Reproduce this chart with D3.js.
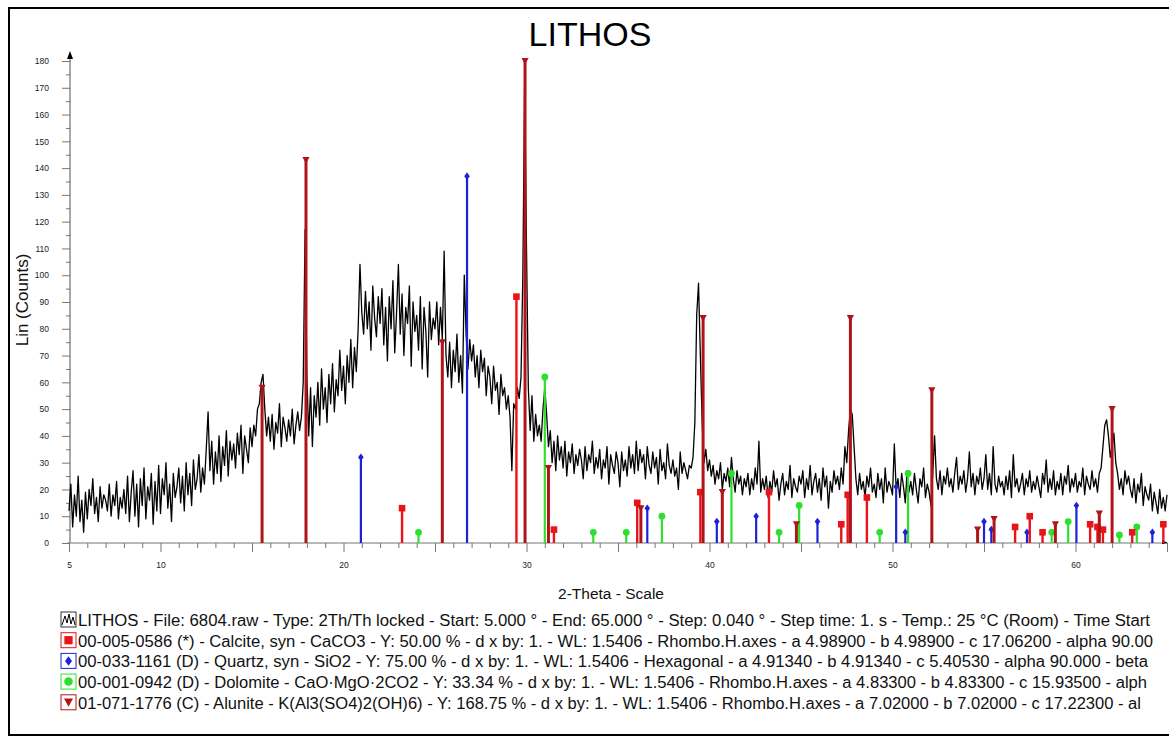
<!DOCTYPE html>
<html><head><meta charset="utf-8">
<script src="https://cdn.jsdelivr.net/npm/d3@7"></script>
<style>
html,body{margin:0;padding:0;background:#fff;}
svg{display:block;}
text{font-family:"Liberation Sans",Arial,sans-serif;}
</style></head>
<body>
<svg id="c" width="1169" height="744"></svg>
<script>
// ---------- DATA ----------
const title = "LITHOS";
const xLabel = "2-Theta - Scale";
const yLabel = "Lin (Counts)";
const scanStart = 5.0;
const scanStep = 0.1;
// measured counts, one row per degree (x.0 ... x.9)
const counts = [
  12,22,6,18,10,25,8,16,4,19,        // 5
  9,20,14,24,11,17,8,21,13,18,       // 6
  16,12,22,10,18,14,23,9,17,13,      // 7
  20,11,25,8,19,27,10,22,6,24,       // 8
  14,28,9,21,16,26,7,23,12,29,       // 9
  11,24,18,30,13,22,8,26,17,21,      // 10
  28,15,25,12,30,18,26,14,31,20,     // 11
  24,33,19,28,22,35,49,27,38,22,     // 12
  34,26,40,23,36,29,42,25,38,31,     // 13
  37,28,41,33,44,26,40,35,30,43,     // 14
  36,44,40,50,52,60,63,50,40,47,     // 15
  38,48,35,45,41,52,36,47,43,38,     // 16
  46,40,50,37,44,49,42,47,60,117,    // 17
  62,40,58,36,55,47,60,44,65,50,     // 18
  58,45,63,52,67,49,61,55,72,57,     // 19
  66,52,70,60,76,58,73,64,80,104,    // 20
  86,78,94,80,90,72,96,84,77,92,     // 21
  82,95,74,88,68,92,80,98,71,86,     // 22
  104,78,93,70,88,82,96,66,90,79,    // 23
  85,72,92,65,88,79,62,90,76,84,     // 24
  80,90,74,88,76,109,70,62,75,58,    // 25
  72,64,78,60,70,56,100,78,65,76,    // 26
  68,74,62,70,58,72,64,69,55,66,     // 27
  62,52,66,57,60,48,63,55,58,50,     // 28
  55,47,27,52,50,58,54,62,100,173,   // 29
  110,58,42,55,38,48,40,44,38,50,    // 30
  58,48,36,42,30,38,27,40,31,36,     // 31
  28,38,25,34,30,37,26,33,29,35,     // 32
  31,24,36,27,33,30,38,26,32,28,     // 33
  35,24,31,28,36,22,33,29,26,34,     // 34
  30,21,34,27,31,25,36,28,33,26,     // 35
  38,27,35,30,33,24,36,29,26,34,     // 36
  28,32,22,35,27,30,24,37,29,26,     // 37
  31,25,28,20,34,26,30,27,24,29,     // 38
  28,32,45,85,97,70,45,30,35,27,     // 39
  31,25,29,22,27,24,30,20,26,23,     // 40
  28,21,32,24,19,27,22,25,18,24,     // 41
  21,26,18,24,20,28,22,38,19,24,     // 42
  20,25,17,23,19,27,21,24,16,22,     // 43
  26,18,23,20,29,17,24,21,19,25,     // 44
  22,27,17,24,20,29,18,23,26,19,     // 45
  24,16,28,21,25,13,23,19,27,22,     // 46
  25,20,28,22,36,30,42,50,48,36,     // 47
  24,18,26,20,23,17,25,21,28,19,     // 48
  22,17,26,20,24,15,28,19,23,21,     // 49
  18,37,20,24,17,26,21,15,27,19,     // 50
  23,18,26,20,15,24,21,28,17,22,     // 51
  19,14,26,40,24,20,27,18,25,22,     // 52
  28,21,24,19,26,32,20,25,22,27,     // 53
  19,24,34,21,26,18,25,22,28,20,     // 54
  24,33,20,26,18,36,22,19,25,21,     // 55
  23,18,25,20,27,17,33,21,24,19,     // 56
  22,26,18,24,21,27,19,23,20,25,     // 57
  21,17,26,22,31,19,24,20,27,18,     // 58
  23,20,26,18,25,22,29,19,24,21,     // 59
  26,19,23,21,28,18,25,22,20,27,     // 60
  21,24,19,26,28,36,44,46,40,32,     // 61
  36,41,30,26,20,24,18,27,22,25,     // 62
  20,17,24,15,22,19,26,14,21,18,     // 63
  16,22,12,19,15,11,20,13,17,12,     // 64
  18                                 // 65
];

// reference patterns: [2-theta, counts]
const calciteSticks = [[23.2,13],[29.45,92],[31.5,5],[36.05,15],[39.5,19],[43.25,19],[47.2,7],[47.55,18],[48.6,17],[56.7,6],[57.5,10],[58.2,4],[60.8,7],[61.2,6],[61.5,5],[63.1,4],[64.8,7]];
const quartzSticks = [[20.95,32],[26.75,137],[36.6,13],[40.4,8],[42.55,10],[45.9,8],[50.2,21],[50.7,4],[55.0,8],[55.4,5],[57.35,4],[60.05,14],[64.2,4]];
const dolomiteSticks = [[24.1,4],[31.0,62],[33.65,4],[35.45,4],[37.4,10],[41.2,26],[43.8,4],[44.9,14],[49.3,4],[50.85,26],[58.7,4],[59.6,8],[62.4,3],[63.35,6]];
const aluniteSticks = [[15.55,58],[17.95,143],[25.4,75],[29.92,180],[31.2,28],[36.25,13],[39.65,84],[40.7,19],[44.75,7],[47.7,84],[52.15,57],[54.65,5],[55.55,9],[58.9,7],[61.3,11],[62.0,50]];

const yTicks = [0,10,20,30,40,50,60,70,80,90,100,110,120,130,140,150,160,170,180];
const xTickLabels = [5,10,20,30,40,50,60];

const legendItems = [
  {name:"scan", text:"LITHOS - File: 6804.raw - Type: 2Th/Th locked - Start: 5.000 ° - End: 65.000 ° - Step: 0.040 ° - Step time: 1. s - Temp.: 25 °C (Room) - Time Start", w:1072},
  {name:"calcite", text:"00-005-0586 (*) - Calcite, syn - CaCO3 - Y: 50.00 % - d x by: 1. - WL: 1.5406 - Rhombo.H.axes - a 4.98900 - b 4.98900 - c 17.06200 - alpha 90.00", w:1075},
  {name:"quartz", text:"00-033-1161 (D) - Quartz, syn - SiO2 - Y: 75.00 % - d x by: 1. - WL: 1.5406 - Hexagonal - a 4.91340 - b 4.91340 - c 5.40530 - alpha 90.000 - beta", w:1070},
  {name:"dolomite", text:"00-001-0942 (D) - Dolomite - CaO·MgO·2CO2 - Y: 33.34 % - d x by: 1. - WL: 1.5406 - Rhombo.H.axes - a 4.83300 - b 4.83300 - c 15.93500 - alph", w:1069},
  {name:"alunite", text:"01-071-1776 (C) - Alunite - K(Al3(SO4)2(OH)6) - Y: 168.75 % - d x by: 1. - WL: 1.5406 - Rhombo.H.axes - a 7.02000 - b 7.02000 - c 17.22300 - al", w:1063}
];

// ---------- STYLE ----------
const colors = {scan:"#000", calcite:"#e8141a", quartz:"#1c22d8", dolomite:"#2ee02e", alunite:"#b0141a"};

const svg = d3.select("#c");
const x = d3.scaleLinear().domain([5,65]).range([69,1167]);
const y = d3.scaleLinear().domain([0,180]).range([543,61]);

// frame
svg.append("rect").attr("x",9).attr("y",8).attr("width",1170).attr("height",727)
  .attr("fill","none").attr("stroke","#000").attr("stroke-width",2);

// title
svg.append("text").attr("x",590).attr("y",46).attr("text-anchor","middle")
  .attr("font-size",34).attr("fill","#000").text(title);

// axes
const yAxis = d3.axisLeft(y).tickValues(d3.range(0,181,5))
  .tickFormat(d => yTicks.includes(d) ? d : "").tickSize(8).tickPadding(12);
const gy = svg.append("g").attr("transform","translate(70,0)").call(yAxis);
gy.select(".domain").remove();
gy.selectAll(".tick line").attr("stroke","#777").attr("x2", d => d%10===0 ? -8 : -4);
gy.selectAll(".tick text").attr("font-size",8.5).attr("fill","#222").attr("x",-21)
  .attr("font-family","Liberation Sans, Arial, sans-serif");
svg.append("line").attr("x1",70).attr("x2",70).attr("y1",y(0)).attr("y2",y(180)-6)
  .attr("stroke","#555").attr("stroke-width",1);
svg.append("path").attr("d",`M67,${y(180)-2} L70,${y(180)-10} L73,${y(180)-2} Z`).attr("fill","#000");

const xAxis = d3.axisBottom(x).tickValues(d3.range(5,66,1))
  .tickFormat(d => xTickLabels.includes(d) ? d : "").tickSize(7).tickPadding(12);
const gx = svg.append("g").attr("transform",`translate(0,${y(0)})`).call(xAxis);
gx.select(".domain").remove();
gx.selectAll(".tick line").attr("stroke","#777").attr("y2", d => d%5===0 ? 9 : 5);
gx.selectAll(".tick text").attr("font-size",8.5).attr("fill","#222")
  .attr("font-family","Liberation Sans, Arial, sans-serif");
svg.append("line").attr("x1",x(5)-2).attr("x2",x(65)).attr("y1",y(0)).attr("y2",y(0))
  .attr("stroke","#777").attr("stroke-width",1.2);
svg.append("path").attr("d",`M${x(65)-5},${y(0)-3} L${x(65)+1},${y(0)} L${x(65)-5},${y(0)+1} Z`).attr("fill","#000");

// axis titles
svg.append("text").attr("transform","translate(28,300) rotate(-90)").attr("text-anchor","middle")
  .attr("font-size",17).attr("fill","#111").text(yLabel);
svg.append("text").attr("x",611).attr("y",599).attr("text-anchor","middle")
  .attr("font-size",15.5).attr("fill","#111").text(xLabel);

// scan line
const pts = counts.map((c,i) => [scanStart + i*scanStep, c]);
svg.append("path").datum(pts)
  .attr("d", d3.line().x(d=>x(d[0])).y(d=>y(d[1])))
  .attr("fill","none").attr("stroke","#000").attr("stroke-width",1.3).attr("stroke-linejoin","round");

// markers
function marker(g, kind, cx, cy, s) {
  if (kind==="calcite") g.append("rect").attr("x",cx-3.3*s).attr("y",cy-3.3*s).attr("width",6.6*s).attr("height",6.6*s).attr("fill",colors.calcite);
  else if (kind==="quartz") g.append("path").attr("d",`M${cx},${cy-3.8*s} L${cx+2.8*s},${cy} L${cx},${cy+3.8*s} L${cx-2.8*s},${cy} Z`).attr("fill",colors.quartz);
  else if (kind==="dolomite") g.append("circle").attr("cx",cx).attr("cy",cy).attr("r",3.4*s).attr("fill",colors.dolomite);
  else if (kind==="alunite") g.append("path").attr("d",`M${cx-3.6*s},${cy-3*s} L${cx+3.6*s},${cy-3*s} L${cx},${cy+3.6*s} Z`).attr("fill",colors.alunite);
}

function sticks(data, kind, width) {
  const g = svg.append("g");
  g.selectAll("line").data(data).join("line")
    .attr("x1",d=>x(d[0])).attr("x2",d=>x(d[0]))
    .attr("y1",y(0)).attr("y2",d=>y(d[1]))
    .attr("stroke",colors[kind]).attr("stroke-width",width);
  data.forEach(d => marker(g, kind, x(d[0]), y(d[1]), 1));
}
sticks(dolomiteSticks,"dolomite",2.2);
sticks(quartzSticks,"quartz",2.2);
sticks(calciteSticks,"calcite",2.4);
sticks(aluniteSticks,"alunite",3);

// legend
const lg = svg.append("g");
legendItems.forEach((it,i) => {
  const cy = 620 + i*20.7;
  const bx = 61, by = cy-8;
  lg.append("rect").attr("x",bx).attr("y",by).attr("width",15).attr("height",15)
    .attr("fill","#fff").attr("stroke", it.name==="scan" ? "#333" : colors[it.name]).attr("stroke-width",1);
  if (it.name==="scan") {
    lg.append("path").attr("d",`M${bx+1},${by+13} L${bx+4},${by+4} L${bx+6},${by+11} L${bx+8},${by+2} L${bx+10},${by+12} L${bx+12},${by+5} L${bx+14},${by+13}`)
      .attr("fill","none").attr("stroke","#000").attr("stroke-width",1);
  } else {
    marker(lg, it.name, bx+7.5, by+7.5, 1.25);
  }
  lg.append("text").attr("x",78).attr("y",cy+6).attr("font-size",16).attr("fill","#111")
    .attr("textLength",it.w).attr("lengthAdjust","spacingAndGlyphs").text(it.text);
});
</script>
</body></html>
